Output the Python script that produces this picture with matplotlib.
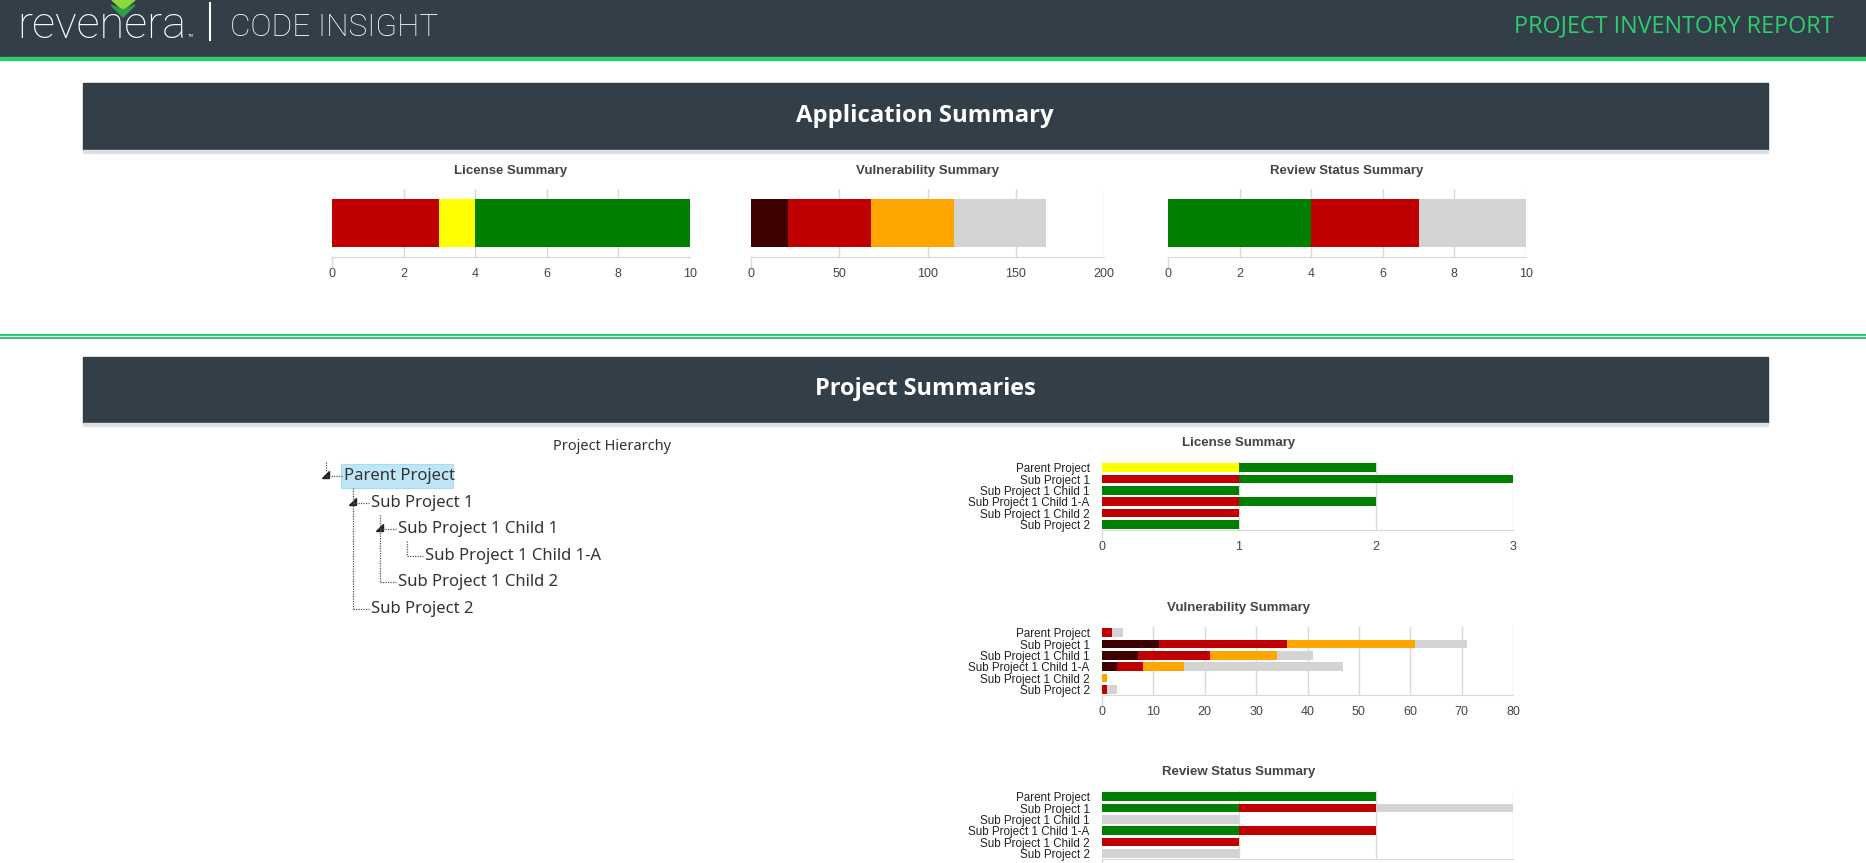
import matplotlib
matplotlib.use('Agg')
import matplotlib.pyplot as plt
from matplotlib.patches import Rectangle, Polygon
import numpy as np

W, H = 1866, 863

# application level totals
app_license = [3, 1, 6]
app_license_colors = ['#c00000', '#ffff00', '#008000']
app_vuln = [21, 47, 47, 52]
app_vuln_colors = ['#3f0000', '#c00000', '#ffa500', '#d3d3d3']
app_review = [4, 3, 3]
app_review_colors = ['#008000', '#c00000', '#d3d3d3']

# per project values
projects = ['Parent Project', 'Sub Project 1', 'Sub Project 1 Child 1',
            'Sub Project 1 Child 1-A', 'Sub Project 1 Child 2', 'Sub Project 2']
tree_levels = [0, 1, 2, 3, 2, 1]

lic_red = [0, 1, 0, 1, 1, 0]
lic_yellow = [1, 0, 0, 0, 0, 0]
lic_green = [1, 2, 1, 1, 0, 1]

vuln_critical = [0, 11, 7, 3, 0, 0]
vuln_high = [2, 25, 14, 5, 0, 1]
vuln_medium = [0, 25, 13, 8, 1, 0]
vuln_low = [2, 10, 7, 31, 0, 2]

rev_approved = [2, 1, 0, 1, 0, 0]
rev_rejected = [0, 1, 0, 1, 1, 0]
rev_pending = [0, 1, 1, 0, 0, 1]

DARK = '#333f48'
GREEN = '#2ecc71'
GRID = '#d9d9d9'

fig = plt.figure(figsize=(W / 100, H / 100), dpi=100)
fig.patch.set_facecolor('white')
renderer = fig.canvas.get_renderer()

bg = fig.add_axes([0, 0, 1, 1])
bg.set_xlim(0, W)
bg.set_ylim(H, 0)
bg.axis('off')


def fit_text(ax, x, y, s, width, **kw):
    t = ax.text(x, y, s, **kw)
    w = t.get_window_extent(renderer).width
    t.set_fontsize(t.get_fontsize() * width / w)
    return t


def px_axes(x0, y0, x1, y1):
    return fig.add_axes([x0 / W, 1 - y1 / H, (x1 - x0) / W, (y1 - y0) / H])


# header
bg.add_patch(Rectangle((0, 0), W, 57, color=DARK))
bg.add_patch(Rectangle((0, 57), W, 3.5, color=GREEN))
fit_text(bg, 17, 38, 'revenera', 169, color='white', fontsize=30,
         family='Roboto', fontweight='light', va='baseline')
bg.add_patch(Polygon([(112, 0), (135, 0), (123, 10)], color='#8ed83f'))
bg.add_patch(Polygon([(111, 5), (123, 10), (135, 5), (123, 17)], color='#2f9e44'))
bg.text(187, 37, 'TM', color='white', fontsize=3, va='baseline')
bg.plot([210, 210], [3, 40], color='white', lw=1.5)
fit_text(bg, 230, 36, 'CODE INSIGHT', 208, color='white', fontsize=20,
         family='Roboto', fontweight='light', va='baseline')
fit_text(bg, 1834, 32, 'PROJECT INVENTORY REPORT', 319, color=GREEN, fontsize=16,
         family='Open Sans', ha='right', va='baseline')

# banners
bg.add_patch(Rectangle((83, 83), 1685, 67, color=DARK))
bg.add_patch(Rectangle((83, 150), 1685, 3, color='#dde1e5'))
fit_text(bg, 925, 116, 'Application Summary', 258, color='white', fontsize=18,
         family='Open Sans', fontweight='bold', ha='center', va='center')

bg.add_patch(Rectangle((0, 333.7), W, 2, color=GREEN, lw=0))
bg.add_patch(Rectangle((0, 337.2), W, 2, color=GREEN, lw=0))

bg.add_patch(Rectangle((83, 357), 1685, 66, color=DARK))
bg.add_patch(Rectangle((83, 423), 1685, 3, color='#dde1e5'))
fit_text(bg, 925, 389, 'Project Summaries', 222, color='white', fontsize=18,
         family='Open Sans', fontweight='bold', ha='center', va='center')


def style_axes(ax, xmax, ticks):
    ax.set_xlim(0, xmax)
    ax.set_xticks(ticks)
    for sp in ax.spines.values():
        sp.set_visible(False)
    ax.spines['bottom'].set_visible(True)
    ax.spines['bottom'].set_color(GRID)
    for t in ticks[1:]:
        ax.axvline(t, color=GRID, lw=1, zorder=0)
    ax.plot([0, 0], [0, -0.15], transform=ax.get_xaxis_transform(),
            clip_on=False, color=GRID, lw=1)
    ax.tick_params(axis='x', length=0, labelsize=9, labelcolor='#444444', pad=8)
    ax.tick_params(axis='y', length=0)
    for lab in ax.get_xticklabels():
        lab.set_family('Liberation Sans')


def app_chart(x0, x1, values, colors, xmax, ticks, title):
    ax = px_axes(x0, 189, x1, 257)
    left = np.concatenate([[0], np.cumsum(values)[:-1]])
    ax.barh([0] * len(values), values, left=left, color=colors, height=0.72, zorder=2)
    ax.set_ylim(-0.5, 0.5)
    ax.set_yticks([])
    style_axes(ax, xmax, ticks)
    bg.text((x0 + x1) / 2, 171, title, ha='center', va='center', fontsize=9.5,
            fontweight='bold', color='#444444', family='Liberation Sans')


app_chart(332, 690, app_license, app_license_colors, 10, [0, 2, 4, 6, 8, 10], 'License Summary')
app_chart(751, 1104, app_vuln, app_vuln_colors, 200, [0, 50, 100, 150, 200], 'Vulnerability Summary')
app_chart(1168, 1526, app_review, app_review_colors, 10, [0, 2, 4, 6, 8, 10], 'Review Status Summary')


def project_chart(top, series, colors, xmax, ticks, title, show_ticks=True):
    ax = px_axes(1102, top, 1513, top + 68)
    y = np.arange(len(projects))
    left = np.zeros(len(projects))
    for vals, c in zip(series, colors):
        ax.barh(y, vals, left=left, color=c, height=0.77, zorder=2)
        left = left + np.array(vals)
    ax.set_ylim(len(projects) - 0.5, -0.5)
    ax.set_yticks(y)
    ax.set_yticklabels(projects, fontsize=8.4, color='#222222', family='Liberation Sans')
    style_axes(ax, xmax, ticks)
    ax.tick_params(axis='y', length=0, pad=9)
    if not show_ticks:
        # the page is cut off below this chart
        ax.tick_params(axis='x', labelbottom=False)
    bg.text(1239, top - 19, title, ha='center', va='center', fontsize=9.5,
            fontweight='bold', color='#444444', family='Liberation Sans')


project_chart(462, [lic_red, lic_yellow, lic_green], app_license_colors, 3, [0, 1, 2, 3],
              'License Summary')
project_chart(627, [vuln_critical, vuln_high, vuln_medium, vuln_low], app_vuln_colors, 80,
              [0, 10, 20, 30, 40, 50, 60, 70, 80], 'Vulnerability Summary')
project_chart(791, [rev_approved, rev_rejected, rev_pending], app_review_colors, 3, [0, 1, 2, 3],
              'Review Status Summary', show_ticks=False)

# project hierarchy tree
bg.text(612, 446, 'Project Hierarchy', ha='center', va='center', fontsize=10.5,
        color='#333333', family='Noto Sans')

row_y = [476 + 26.6 * i for i in range(len(projects))]
col_x = [326 + 27 * lv for lv in tree_levels]
dot = dict(color='#555555', lw=0.9, linestyle=(0, (1, 1)))

bg.add_patch(Rectangle((341, 464), 112, 24, facecolor='#bfe6f7', edgecolor='#a9dcf2', lw=0.8))
bg.plot([326, 326], [462, 472], **dot)
for i, (name, lv) in enumerate(zip(projects, tree_levels)):
    x, y = col_x[i], row_y[i]
    bg.plot([x, x + 16], [y, y], **dot)
    has_child = i + 1 < len(projects) and tree_levels[i + 1] > lv
    if has_child:
        bg.add_patch(Polygon([(x + 3, y - 5), (x + 3, y + 2), (x - 4, y + 2)], color='#222222'))
        # vertical line down to the last child of this node
        last = i
        for j in range(i + 1, len(projects)):
            if tree_levels[j] <= lv:
                break
            if tree_levels[j] == lv + 1:
                last = j
        cx = x + 27
        bg.plot([cx, cx], [y + 12, row_y[last]], **dot)
    bg.text(x + 18, y, name, va='center', ha='left', fontsize=12,
            color='#333333', family='Noto Sans')

fig.savefig('out.png', dpi=100, facecolor='white')
